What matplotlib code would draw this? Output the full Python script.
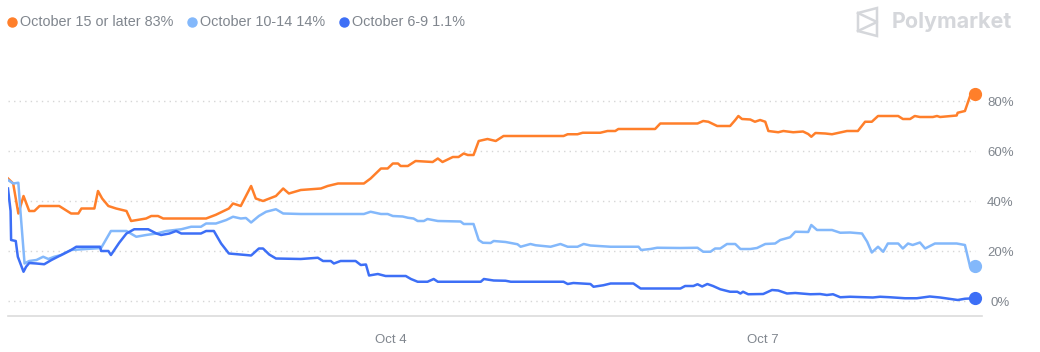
import matplotlib
matplotlib.use('Agg')
import matplotlib.pyplot as plt
from matplotlib.lines import Line2D
from matplotlib.patches import Polygon

# hours since Sep 30 22:00 (Oct 4 00:00 = 74 h)
late_h = [0, 1.0, 2.0, 3.0, 4.1, 5.1, 6.1, 9.9, 12.2, 13.6, 14.2, 16.7, 17.4, 18.2, 19.4, 20.9,
          22.9, 23.8, 26.7, 27.7, 29.0, 30.0, 38.3, 40.2, 42.7, 43.5, 45.0, 47.0, 47.9, 49.3,
          51.8, 53.2, 54.3, 56.6, 60.5, 61.8, 63.8, 68.8, 70.1, 72.1, 73.4, 74.4, 75.4, 75.9,
          77.3, 78.8, 82.1, 83.1, 84.0, 86.0, 87.1, 88.1, 88.9, 90.0, 91.0, 92.7, 94.3, 95.8,
          107.4, 108.2, 110.1, 111.1, 114.5, 115.9, 117.4, 118.0, 125.1, 126.1, 133.3, 134.4,
          135.4, 137.1, 139.6, 140.6, 141.2, 141.9, 143.5, 144.4, 145.4, 146.4, 147.0, 148.9,
          149.9, 151.8, 153.7, 154.7, 155.3, 156.1, 158.0, 159.3, 162.2, 164.3, 165.7, 167.0,
          168.2, 172.1, 173.0, 174.4, 175.3, 176.3, 178.8, 179.6, 180.2, 183.4, 183.6, 185.0,
          186.0, 186.9]
late_v = [49, 47, 35, 42, 36, 36, 38, 38, 35, 35, 37, 37, 44, 41, 38, 37,
          36, 32, 33, 34, 34, 33, 33, 34.5, 37, 39, 38, 46, 41, 40,
          42, 45, 43, 44.4, 45, 46, 47, 47, 49, 53, 53, 55, 55, 54,
          54, 56, 55.6, 57, 55.6, 57.6, 57.6, 59, 58.4, 58.4, 64, 64.8, 64, 66,
          66, 66.7, 66.7, 67.3, 67.3, 68, 68, 68.8, 68.8, 71, 71, 72,
          71.7, 70, 70, 72.4, 74, 72.8, 72.6, 71.7, 72.4, 71.7, 68, 67.5,
          68, 67.5, 67.8, 66.8, 65.7, 67.2, 67, 66.7, 68, 68, 71.7, 71.7,
          74, 74, 72.8, 72.8, 74, 73.6, 73.6, 74, 73.6, 74.2, 75.3, 76,
          82, 83]

mid_h = [0, 1.0, 2.0, 2.4, 3.2, 4.1, 5.5, 6.8, 7.8, 8.95, 10.3, 12.2, 18.0, 19.9, 22.9, 24.8,
         26.7, 28.7, 30.6, 33.5, 35.4, 37.3, 38.3, 40.2, 42.2, 43.5, 45.0, 46.0, 47.0, 48.5,
         49.9, 51.8, 53.2, 56.6, 68.8, 70.1, 72.1, 73.4, 74.4, 76.3, 77.3, 78.4, 79.2, 80.4,
         81.1, 83.1, 87.5, 88.1, 90.0, 91.0, 91.8, 93.3, 93.9, 96.2, 98.5, 99.1, 101.0, 102.0,
         104.9, 106.8, 108.2, 110.1, 111.3, 112.6, 116.5, 121.9, 122.4, 124.2, 125.5, 129.9,
         133.3, 134.4, 135.8, 136.7, 137.7, 139.0, 140.6, 141.6, 143.5, 144.8, 146.4, 148.3,
         149.3, 151.2, 152.2, 154.7, 155.3, 156.4, 159.3, 160.9, 162.8, 165.1, 166.1, 167.0,
         168.2, 169.2, 170.1, 172.1, 173.0, 174.0, 174.9, 176.3, 177.3, 179.2, 183.4, 185.0,
         186.0, 186.9]
mid_v = [48.4, 47, 47.3, 36, 15, 16, 16.4, 17.7, 16.8, 17.7, 18.4, 20.4, 21.2, 28, 28, 25.7,
         26.4, 27, 28, 28.7, 29.7, 29.7, 31, 31, 32.4, 33.7, 33, 33.2, 31.4, 34,
         35.7, 36.7, 35, 34.8, 34.8, 35.7, 34.8, 34.8, 34, 33.8, 33.3, 33, 32, 32,
         32.8, 32, 31.8, 30.8, 30.8, 24.4, 23.3, 23.2, 24, 23.6, 22.7, 21.7, 22.8, 22.3,
         21.7, 22.8, 21.7, 21.7, 22.8, 22.2, 21.7, 21.7, 20.4, 20.8, 21.3, 21.2,
         21.3, 19.7, 19.7, 21, 21, 22.8, 22.8, 20.8, 20.8, 21.2, 22.8, 23,
         24.4, 25.5, 27.7, 27.6, 30.4, 28.4, 28.4, 27.3, 27.4, 27, 23.7, 19.4,
         21.7, 19.7, 23, 23, 21, 23, 22.4, 23.4, 21, 23, 23, 22.4,
         13.7, 14]

early_h = [0, 0.5, 0.6, 1.5, 1.9, 3.0, 3.5, 4.1, 5.5, 7.0, 8.4, 10.3, 12.2, 13.2, 17.8, 18.0,
           19.4, 19.9, 21.5, 22.9, 24.4, 27.1, 28.7, 29.6, 31.2, 32.5, 33.5, 37.3, 38.3, 39.8,
           41.2, 42.7, 46.0, 47.0, 48.5, 49.3, 50.5, 51.8, 56.6, 59.9, 60.9, 62.4, 63.0, 64.3,
           67.2, 68.2, 69.2, 69.8, 71.5, 73.0, 76.9, 77.9, 79.2, 81.1, 82.3, 83.1, 91.4, 92.0,
           93.9, 96.2, 97.2, 107.4, 108.2, 109.3, 112.6, 113.2, 115.1, 116.5, 120.9, 122.3,
           130.0, 130.9, 132.5, 133.3, 133.8, 134.2, 135.2, 136.3, 137.7, 139.6, 141.0, 141.6,
           142.1, 143.1, 146.0, 147.7, 148.9, 150.6, 152.2, 155.1, 157.0, 158.3, 159.5, 160.9,
           162.8, 167.2, 168.6, 170.5, 173.4, 175.7, 178.2, 180.2, 183.6, 185.0, 186.9]
early_v = [45, 36, 24.4, 24, 17.7, 11.7, 13.7, 15.2, 15, 14.7, 16.4, 18.4, 20.4, 21.7, 21.7, 20,
           20, 18.4, 23.3, 27, 28.7, 28.7, 27, 26.4, 27, 28, 27, 27, 28, 28,
           23, 19, 18.4, 18.2, 21, 21, 18.6, 17, 16.8, 17.3, 16, 16, 15, 16,
           16, 14.4, 14.6, 10.2, 10.8, 10, 10, 8.8, 7.7, 7.7, 8.8, 7.7, 7.7, 8.8,
           8.2, 8.1, 7.7, 7.7, 6.8, 7.2, 6.8, 5.7, 6.3, 7, 7, 5,
           5, 6, 6, 6.7, 6.2, 5.8, 6.8, 6, 4.7, 3.7, 3.7, 3,
           3.7, 2.7, 2.8, 4.4, 4.2, 3, 3.2, 2.7, 2.8, 2.4, 2.7, 1.5,
           1.7, 1.4, 1.7, 1.5, 1.1, 1.1, 1.8, 1.4, 0.4, 0.9, 1.1]

names = ["October 15 or later", "October 10-14", "October 6-9"]
last_pct = ["83%", "14%", "1.1%"]
colors = ["#ff7f2a", "#83b8fb", "#3d6ff6"]
xtick_pos = [74, 146]
xtick_lab = ["Oct 4", "Oct 7"]
ytick_pos = [0, 20, 40, 60, 80]

plt.rcParams['font.family'] = ['Liberation Sans', 'DejaVu Sans']
txt = "#80868e"

fig = plt.figure(figsize=(10.4, 3.52), dpi=100)
ax = fig.add_axes([8 / 1040, 36 / 352, 974 / 1040, 276 / 352])
ax.set_xlim(0, 188.3)
ax.set_ylim(-6, 104.4)

for y in ytick_pos:
    ax.plot([0, 187], [y, y], color="#d6d6d6", lw=1, ls=(0, (1, 3)), zorder=1)

series = [(late_h, late_v), (mid_h, mid_v), (early_h, early_v)]
for (h, v), c in zip(series, colors):
    ax.plot(h, v, color=c, lw=1.8, zorder=3, solid_joinstyle='round')
    ax.plot(h[-1], v[-1], 'o', color=c, ms=8.5, zorder=4)

for s in ["top", "right", "left"]:
    ax.spines[s].set_visible(False)
ax.spines["bottom"].set_color("#dcdcdc")
ax.spines["bottom"].set_linewidth(1.2)
ax.set_yticks([])
ax.set_xticks(xtick_pos)
ax.set_xticklabels(xtick_lab, color=txt, fontsize=9.5)
ax.tick_params(axis='x', length=0, pad=13)
for y in ytick_pos:
    ax.text(1.0187, y - 0.8, f"{y}%", transform=ax.get_yaxis_transform(), ha="center",
            va="center", color=txt, fontsize=9.5)

# legend
lx = [11.5 / 1040, 192 / 1040, 344 / 1040]
ly = 1 - 22 / 352
for x0, n, p, c in zip(lx, names, last_pct, colors):
    fig.add_artist(Line2D([x0], [ly], marker='o', color=c, ms=6.5, transform=fig.transFigure))
    fig.text(x0 + 8.5 / 1040, ly, f"{n} {p}", color=txt, fontsize=10.4, va="center", ha="left")

# logo
logo_c = "#d5d7db"
pts = [(858, 13), (877, 8), (877, 36), (858, 31)]
fig.add_artist(Polygon([(x / 1040, 1 - y / 352) for x, y in pts], closed=True, fill=False,
                       ec=logo_c, lw=1.8, transform=fig.transFigure))
fig.add_artist(Line2D([858 / 1040, 877 / 1040, 858 / 1040],
                      [1 - 13 / 352, 1 - 22 / 352, 1 - 31 / 352], color=logo_c, lw=1.8,
                      transform=fig.transFigure))
fig.text(892 / 1040, 1 - 22 / 352, "Polymarket", color=logo_c, fontsize=15.5,
         fontweight="bold", va="center", ha="left", family=["Inter", "DejaVu Sans"])

fig.savefig("out.png", dpi=100)
